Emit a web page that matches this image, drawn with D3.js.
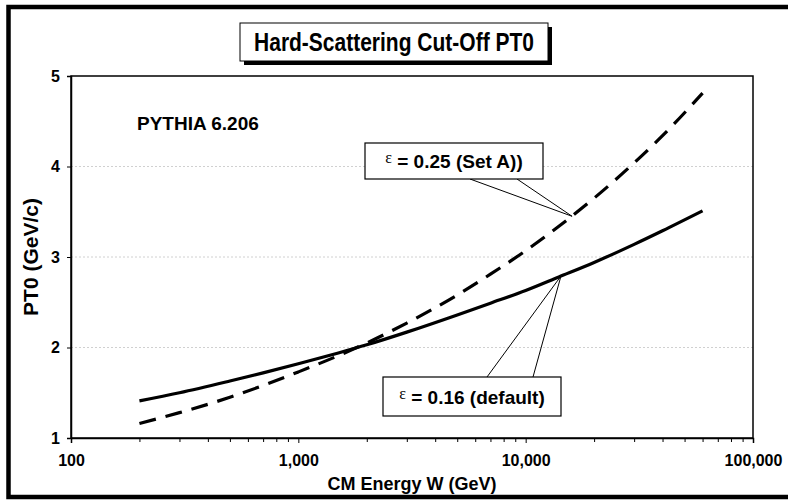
<!DOCTYPE html>
<html><head><meta charset="utf-8">
<script src="https://cdn.jsdelivr.net/npm/d3@7"></script>
<style>
html,body{margin:0;padding:0;background:#fff;}
svg{display:block;}
text{font-family:"Liberation Sans",Arial,sans-serif;font-weight:bold;fill:#000;}
</style></head>
<body><svg id="c" width="788" height="501"></svg>
<script>
// ---- data ----
const energies = [200, 300, 500, 700, 1000, 1500, 2000, 3000, 5000, 7000, 10000, 14000, 20000, 30000, 40000, 60000];
const pt0Default = [1.41, 1.50, 1.63, 1.72, 1.82, 1.94, 2.03, 2.17, 2.36, 2.49, 2.63, 2.78, 2.94, 3.14, 3.29, 3.51];
const pt0SetA = [1.16, 1.28, 1.45, 1.58, 1.73, 1.91, 2.05, 2.27, 2.58, 2.81, 3.07, 3.34, 3.65, 4.04, 4.34, 4.81];
const xTicks = [100, 1000, 10000, 100000];
const xTickLabels = ["100", "1,000", "10,000", "100,000"];
const yTicks = [1, 2, 3, 4, 5];
const gridValues = [2, 3, 4];
const titleText = "Hard-Scattering Cut-Off PT0";
const xTitle = "CM Energy W (GeV)";
const yTitle = "PT0  (GeV/c)";
const noteText = "PYTHIA 6.206";
const calloutLabels = [" = 0.25 (Set A))", " = 0.16 (default)"];
const calloutW = [16000, 14300];
const calloutPT0 = [3.45, 2.79];

const svg = d3.select("#c");
const L = 71, R = 753, T = 76, B = 438;
const x = d3.scaleLog().domain([100, 100000]).range([L, R]);
const y = d3.scaleLinear().domain([1, 5]).range([B, T]);

// outer frame
svg.append("rect").attr("x", 8.5).attr("y", 7).attr("width", 820).attr("height", 490)
  .attr("fill", "none").attr("stroke", "#000").attr("stroke-width", 4.5);

// grid
svg.append("g").selectAll("line").data(gridValues).join("line")
  .attr("x1", L).attr("x2", R).attr("y1", d => y(d)).attr("y2", d => y(d))
  .attr("stroke", "#d0d0d0").attr("stroke-width", 1).attr("stroke-dasharray", "2,2");

// plot border
svg.append("rect").attr("x", L).attr("y", T).attr("width", R - L).attr("height", B - T)
  .attr("fill", "none").attr("stroke", "#000").attr("stroke-width", 1.5);

// axes
const xMinor = [];
for (let dec = 100; dec < 100000; dec *= 10) for (let k = 2; k <= 9; k++) xMinor.push(dec * k);
const xAxisMinor = d3.axisBottom(x).tickValues(xMinor).tickSize(4).tickFormat("");
const gxm = svg.append("g").attr("transform", `translate(0,${B})`).call(xAxisMinor);
gxm.select(".domain").remove();
const xAxis = d3.axisBottom(x).tickValues(xTicks).tickSize(5).tickPadding(12)
  .tickFormat((d, i) => xTickLabels[i]);
const gx = svg.append("g").attr("transform", `translate(0,${B})`).call(xAxis);
gx.select(".domain").attr("stroke-width", 1.5);
gx.selectAll("text").attr("font-size", 16).attr("font-family", null);
svg.selectAll(".tick line").attr("stroke", "#000");

const yAxis = d3.axisLeft(y).tickValues(yTicks).tickSize(4).tickPadding(7).tickFormat(d3.format("d"));
const gy = svg.append("g").attr("transform", `translate(${L},0)`).call(yAxis);
gy.select(".domain").attr("stroke-width", 1.5);
gy.selectAll("text").attr("font-size", 16).attr("font-family", null);

// lines
const line = d3.line().x((d, i) => x(energies[i])).y(d => y(d)).curve(d3.curveMonotoneX);
svg.append("path").datum(pt0Default).attr("d", line).attr("fill", "none")
  .attr("stroke", "#000").attr("stroke-width", 3.2);
svg.append("path").datum(pt0SetA).attr("d", line).attr("fill", "none")
  .attr("stroke", "#000").attr("stroke-width", 3.2).attr("stroke-dasharray", "17,10");

// titles
const tb = {x: 240, y: 23, w: 308, h: 38};
svg.append("rect").attr("x", tb.x + 4).attr("y", tb.y + 4).attr("width", tb.w).attr("height", tb.h).attr("fill", "#000");
svg.append("rect").attr("x", tb.x).attr("y", tb.y).attr("width", tb.w).attr("height", tb.h)
  .attr("fill", "#fff").attr("stroke", "#000").attr("stroke-width", 1);
svg.append("text").attr("transform", `translate(${tb.x + tb.w / 2},${tb.y + 28}) scale(0.84,1)`)
  .attr("text-anchor", "middle").attr("font-size", 25)
  .text(titleText);

svg.append("text").attr("x", (L + R) / 2).attr("y", 490).attr("text-anchor", "middle")
  .attr("font-size", 18).text(xTitle);
svg.append("text").attr("transform", `translate(38,${(T + B) / 2}) rotate(-90)`).attr("text-anchor", "middle")
  .attr("font-size", 21).text(yTitle);

svg.append("text").attr("x", 137).attr("y", 130).attr("font-size", 19).text(noteText);

// callouts
const boxes = [
  {x: 365, y: 143, w: 178, h: 36, a: 470, b: 517, top: false},
  {x: 383, y: 377, w: 178, h: 39, a: 487, b: 533, top: true}
];
boxes.forEach((bx, i) => {
  const px = x(calloutW[i]), py = y(calloutPT0[i]);
  const ey = bx.top ? bx.y : bx.y + bx.h;
  svg.append("path").attr("d", `M${bx.a},${ey}L${px},${py}L${bx.b},${ey}`)
    .attr("fill", "none").attr("stroke", "#000").attr("stroke-width", 1);
  svg.append("rect").attr("x", bx.x).attr("y", bx.y).attr("width", bx.w).attr("height", bx.h)
    .attr("fill", "#fff").attr("stroke", "#000").attr("stroke-width", 1.2);
  const t = svg.append("text").attr("x", bx.x + bx.w / 2).attr("y", bx.y + bx.h / 2 + 7)
    .attr("text-anchor", "middle").attr("font-size", 19);
  t.append("tspan").attr("font-family", "'Liberation Serif','Times New Roman',serif").attr("font-weight", "normal")
    .attr("font-size", 16).attr("dy", -5).text("\u03B5");
  t.append("tspan").attr("dy", 5).text(calloutLabels[i]);
});
</script></body></html>
